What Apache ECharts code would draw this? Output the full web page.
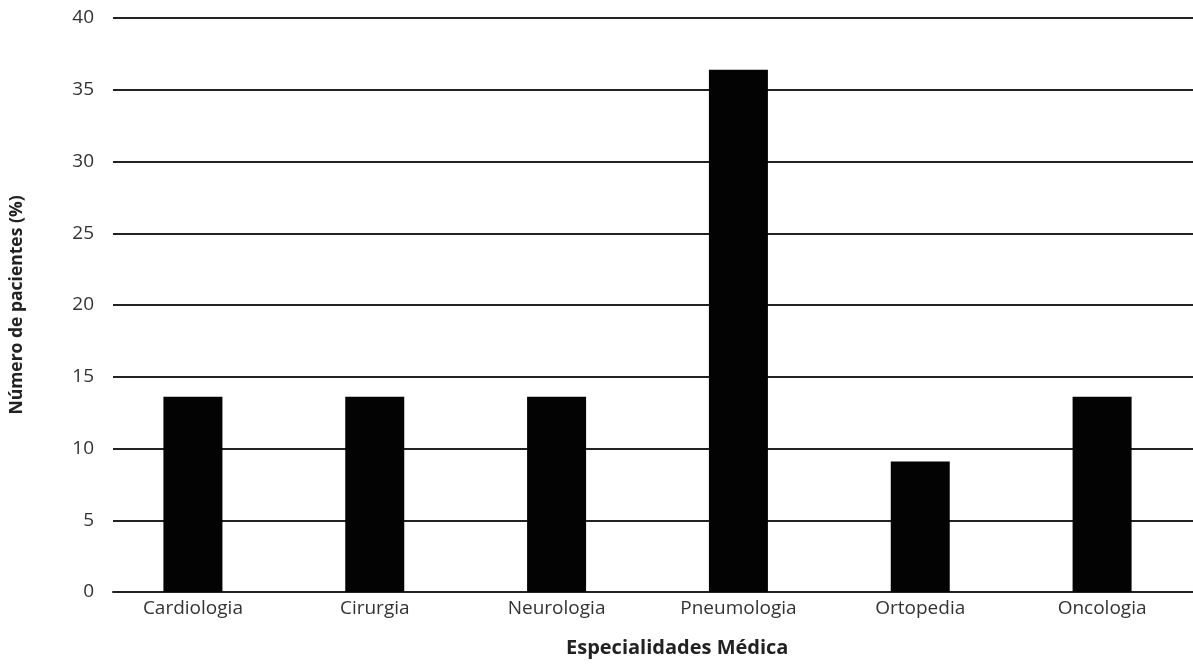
<!DOCTYPE html>
<html><head><meta charset="utf-8">
<script src="https://cdn.jsdelivr.net/npm/echarts@6/dist/echarts.min.js"></script>
<style>html,body{margin:0;padding:0;background:#fff}#c{width:1193px;height:670px}</style>
</head><body><div id="c"></div>
<script>
const categories = ['Cardiologia','Cirurgia','Neurologia','Pneumologia','Ortopedia','Oncologia'];
const values = [13.6, 13.6, 13.6, 36.4, 9.1, 13.6];
const yTicks = [0,5,10,15,20,25,30,35,40];

const chart = echarts.init(document.getElementById('c'));
const font = '"Open Sans", "Noto Sans", sans-serif';
chart.setOption({
  animation: false,
  grid: [
    {left: 109, right: 0, top: 18, bottom: 78},
    {left: 102, width: 1096, top: 18, bottom: 78}
  ],
  xAxis: [
    {gridIndex: 0, type: 'category', data: categories,
     axisLine: {lineStyle: {color: '#222', width: 2}}, axisTick: {show: false}, axisLabel: {show: false}},
    {gridIndex: 1, type: 'category', data: categories,
     axisLine: {show: false}, axisTick: {show: false},
     axisLabel: {color: '#333', fontSize: 19, fontFamily: font, margin: 7}}
  ],
  yAxis: [
    {gridIndex: 0, type: 'value', min: 0, max: 40, interval: 5,
     name: 'Número de pacientes (%)', nameLocation: 'middle', nameGap: 87,
     nameTextStyle: {color: '#222', fontSize: 17.5, fontWeight: 'bold', fontFamily: font},
     axisLine: {show: false}, axisTick: {show: false},
     axisLabel: {color: '#333', fontSize: 19, fontFamily: font, margin: 19,
       formatter: v => yTicks.includes(v) ? String(v) : ''},
     splitLine: {lineStyle: {color: '#222', width: 2}}},
    {gridIndex: 1, type: 'value', min: 0, max: 40, interval: 5, show: false, splitLine: {show: false}}
  ],
  graphic: [{type: 'text', left: 566, top: 638,
    style: {text: 'Especialidades Médica', fill: '#222', font: 'bold 20px ' + font}}],
  series: [{type: 'bar', xAxisIndex: 1, yAxisIndex: 1, data: values, barWidth: 59,
    itemStyle: {color: '#030303'}}]
});
</script></body></html>
